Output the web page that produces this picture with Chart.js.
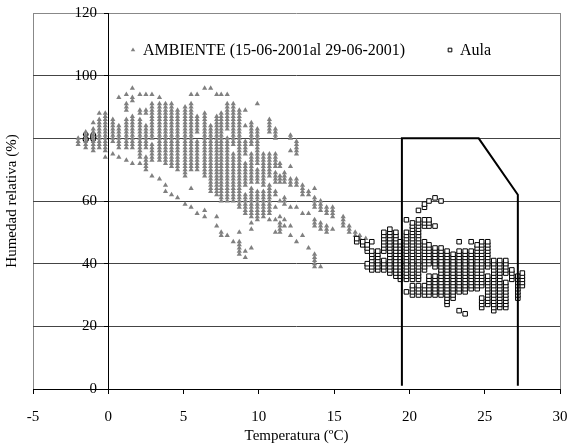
<!DOCTYPE html>
<html lang="es">
<head>
<meta charset="UTF-8">
<title>Humedad relativa frente a temperatura</title>
<script src="https://cdn.jsdelivr.net/npm/chart.js@4.4.1/dist/chart.umd.min.js"></script>
<style>
  html, body { margin: 0; padding: 0; background: #fff; }
</style>
</head>
<body>
<canvas id="chart" width="569" height="445"></canvas>
<script>
  // AMBIENTE: temperature columns (ºC) and the humidity readings (%) seen in each column
  const ambienteTemps = [-2.0, -1.5, -1.0, -0.6, -0.2, 0.3, 0.7, 1.2, 1.6, 2.1, 2.5, 2.9, 3.4, 3.8, 4.2, 4.6,
    5.1, 5.5, 5.9, 6.4, 6.8, 7.2, 7.5, 7.9, 8.3, 8.7, 9.1, 9.5, 9.9, 10.3, 10.7, 11.1, 11.4, 11.7, 12.1,
    12.5, 12.9, 13.3, 13.7, 14.1, 14.5, 14.9, 15.6, 16.0, 16.4, 16.7, 17.1];
  const ambienteHum = [
    [78, 79, 80],
    [77, 78, 79, 80, 81, 82],
    [76, 77, 78, 79, 80, 81, 82, 83, 85],
    [77, 78, 79, 80, 81, 82, 83, 84, 85, 86, 88],
    [74, 76, 77, 78, 79, 80, 81, 82, 83, 84, 85, 86, 87, 88],
    [75, 79, 80, 81, 82, 83, 84, 85, 86],
    [74, 77, 78, 79, 80, 81, 82, 83, 84, 93],
    [73, 77, 78, 79, 80, 81, 82, 83, 84, 85, 86, 89, 90, 91, 94],
    [72, 77, 78, 79, 80, 81, 82, 83, 84, 85, 86, 87, 92, 93, 96],
    [72, 74, 75, 76, 77, 78, 79, 80, 81, 82, 83, 84, 85, 86, 88, 89, 94],
    [70, 71, 72, 73, 74, 77, 78, 79, 80, 81, 82, 83, 84, 88, 89, 94],
    [68, 73, 74, 75, 76, 77, 78, 80, 81, 82, 83, 84, 85, 86, 87, 88, 89, 90, 91, 94],
    [67, 73, 74, 75, 76, 77, 78, 79, 80, 81, 82, 83, 84, 85, 86, 87, 88, 89, 90, 91, 93],
    [63, 65, 72, 73, 74, 75, 76, 77, 78, 79, 80, 81, 82, 83, 84, 85, 86, 87, 88, 89, 90, 91],
    [62, 71, 72, 73, 74, 75, 76, 77, 78, 79, 80, 81, 82, 83, 84, 85, 86, 87, 88, 89, 90, 91],
    [61, 70, 71, 72, 73, 74, 75, 76, 77, 78, 79, 80, 81, 82, 83, 84, 85, 86, 87, 88, 89],
    [59, 68, 69, 70, 71, 72, 73, 74, 75, 76, 77, 78, 79, 80, 81, 82, 83, 84, 85, 86, 87, 88, 89, 90],
    [58, 64, 70, 71, 72, 73, 74, 75, 76, 77, 78, 79, 80, 81, 82, 83, 84, 85, 86, 87, 88, 89, 90, 91, 94],
    [56, 70, 71, 72, 73, 74, 75, 76, 77, 78, 79, 82, 83, 84, 85, 86, 87, 94],
    [55, 57, 68, 69, 70, 71, 72, 73, 74, 75, 76, 77, 78, 79, 80, 81, 82, 83, 84, 85, 86, 87, 88, 96],
    [63, 64, 65, 66, 67, 68, 69, 70, 71, 72, 73, 74, 75, 76, 77, 78, 79, 80, 81, 82, 83, 84, 96],
    [52, 55, 62, 63, 64, 65, 66, 67, 68, 69, 70, 71, 72, 73, 74, 75, 76, 77, 78, 79, 80, 81, 82, 83, 84, 85, 86, 87, 94],
    [49, 50, 60, 61, 62, 63, 64, 65, 66, 67, 68, 69, 70, 71, 72, 73, 74, 75, 76, 77, 78, 79, 80, 81, 82, 83, 84, 85, 86, 87, 88, 94],
    [49, 60, 61, 62, 63, 64, 65, 66, 67, 68, 69, 70, 71, 72, 73, 74, 75, 76, 77, 78, 79, 80, 83, 84, 85, 86, 87, 88, 89, 90, 91, 94],
    [47, 60, 61, 62, 63, 64, 65, 66, 67, 68, 69, 70, 71, 72, 73, 74, 75, 78, 79, 80, 81, 82, 83, 84, 85, 86, 87, 88, 89, 90, 91],
    [43, 44, 45, 46, 47, 50, 58, 59, 60, 61, 62, 63, 64, 65, 66, 67, 68, 69, 70, 71, 72, 73, 74, 75, 76, 77, 78, 79, 80, 81, 82, 83, 84, 85, 86, 87, 88, 89],
    [42, 44, 56, 57, 58, 59, 60, 61, 62, 65, 66, 67, 68, 69, 70, 71, 72, 75, 76, 77, 78, 79, 84, 89],
    [45, 51, 53, 55, 56, 57, 58, 59, 60, 61, 62, 63, 64, 66, 67, 68, 69, 70, 71, 72, 73, 74, 75, 78, 79, 80, 81, 82, 83, 84, 85],
    [54, 55, 56, 57, 58, 59, 60, 61, 62, 63, 66, 67, 68, 69, 70, 72, 73, 74, 75, 76, 77, 78, 79, 80, 81, 82, 83, 91],
    [55, 56, 57, 58, 59, 60, 61, 62, 63, 65, 66, 67, 68, 69, 70, 71, 72, 73, 74, 75],
    [54, 56, 57, 58, 59, 60, 61, 62, 63, 64, 65, 68, 69, 70, 71, 72, 73, 74, 75, 82, 83, 84, 85, 86],
    [50, 54, 58, 62, 63, 66, 67, 68, 69, 71, 72, 73, 74, 75, 80, 81, 82, 83],
    [50, 51, 52, 53, 55, 60, 66, 67, 68, 71, 72],
    [52, 54, 59, 60, 61, 66, 67, 68, 69],
    [49, 52, 58, 65, 66, 67, 71, 76, 80, 81],
    [47, 58, 65, 66, 67, 75, 76, 77, 78, 79],
    [49, 56, 62, 63, 64, 65],
    [45, 56, 62, 63],
    [39, 40, 41, 42, 43, 52, 53, 54, 58, 59, 60, 61, 64],
    [39, 51, 52, 53, 57, 58, 59, 60],
    [50, 51, 52, 56, 57, 58],
    [51, 55, 56, 57, 58],
    [52, 53, 54, 55],
    [50, 51, 52],
    [49, 50],
    [48, 49],
    [48]
  ];

  // Aula: temperature columns (ºC) and humidity readings (%)
  const aulaTemps = [16.5, 16.9, 17.2, 17.5, 17.9, 18.3, 18.7, 19.1, 19.4, 19.8, 20.2, 20.6, 21.0, 21.3,
    21.7, 22.1, 22.5, 22.9, 23.3, 23.7, 24.1, 24.5, 24.8, 25.2, 25.6, 26.0, 26.4, 26.8, 27.2, 27.5];
  const aulaHum = [
    [47, 48],
    [46, 47],
    [39, 40, 44, 45, 46],
    [38, 39, 40, 41, 42, 43, 44, 47],
    [38, 39, 40, 41, 42, 43, 44],
    [38, 39, 40, 41, 44, 45, 46, 47, 48, 49, 50],
    [37, 38, 39, 40, 41, 42, 43, 44, 45, 46, 47, 48, 49, 50, 51],
    [36, 37, 38, 39, 40, 41, 42, 43, 44, 45, 46, 47, 48, 49, 50],
    [35, 36, 37, 38, 39, 40, 41, 42, 43, 44, 45, 46, 47],
    [31, 35, 36, 37, 38, 39, 40, 41, 42, 43, 44, 45, 46, 47, 48, 49, 50, 54],
    [30, 31, 32, 33, 35, 36, 37, 38, 39, 40, 41, 42, 43, 44, 45, 46, 47, 48, 49, 50, 51, 52, 53],
    [30, 31, 32, 33, 35, 36, 37, 38, 39, 40, 41, 42, 43, 44, 45, 46, 47, 48, 49, 50, 51, 52, 53, 54, 57],
    [30, 31, 32, 33, 38, 39, 40, 41, 42, 43, 44, 45, 46, 47, 52, 53, 54, 58, 59],
    [30, 31, 32, 33, 34, 35, 36, 40, 41, 42, 43, 44, 45, 46, 52, 53, 54, 60],
    [30, 31, 32, 33, 34, 35, 36, 39, 40, 41, 42, 43, 44, 45, 52, 61],
    [30, 31, 32, 33, 34, 35, 36, 37, 38, 39, 40, 41, 42, 43, 44, 45, 60],
    [27, 28, 29, 30, 31, 32, 33, 34, 35, 36, 37, 38, 39, 40, 41, 42, 43, 44],
    [29, 30, 31, 32, 33, 34, 35, 36, 37, 38, 39, 40, 41, 42, 43],
    [25, 31, 32, 33, 34, 35, 36, 37, 38, 39, 40, 41, 42, 43, 44, 47],
    [24, 31, 32, 33, 34, 35, 36, 37, 38, 39, 40, 41, 42, 43, 44],
    [32, 33, 34, 35, 36, 37, 38, 39, 40, 41, 42, 43, 44, 47],
    [32, 33, 34, 35, 36, 37, 38, 39, 40, 41, 42, 43, 44, 45, 46],
    [26, 27, 28, 29, 33, 34, 35, 36, 37, 38, 39, 40, 41, 42, 43, 44, 45, 46, 47],
    [27, 28, 29, 30, 31, 32, 33, 34, 35, 36, 39, 40, 41, 42, 43, 44, 45, 46, 47],
    [25, 26, 27, 28, 29, 30, 31, 32, 33, 34, 35, 36, 37, 38, 39, 40, 41],
    [26, 27, 28, 29, 30, 31, 32, 33, 34, 35, 36, 37, 38, 39, 40, 41],
    [26, 27, 28, 29, 30, 31, 32, 33, 34, 37, 38, 39, 40, 41],
    [35, 36, 37, 38],
    [29, 30, 31, 32, 33, 34, 35, 36],
    [33, 34, 35, 36, 37]
  ];

  // comfort zone outline
  const zoneX = [19.5, 19.5, 24.6, 27.2, 27.2];
  const zoneY = [1, 80, 80, 62, 1];

  const xMin = -5, xMax = 30, xStep = 5;
  const yMin = 0, yMax = 120, yStep = 20;

  const ambienteLabel = 'AMBIENTE (15-06-2001al 29-06-2001)';
  const aulaLabel = 'Aula';

  function columnsToPoints(temps, hums) {
    const pts = [];
    temps.forEach((t, i) => hums[i].forEach(h => pts.push({ x: t, y: h })));
    return pts;
  }

  const ambientePts = columnsToPoints(ambienteTemps, ambienteHum);
  const aulaPts = columnsToPoints(aulaTemps, aulaHum);
  const zonePts = zoneX.map((x, i) => ({ x: x, y: zoneY[i] }));

  const serif = '"Liberation Serif", "Times New Roman", serif';
  Chart.defaults.font.family = serif;
  Chart.defaults.font.size = 15;
  Chart.defaults.color = '#000';

  // legend drawn inside the plot, as in the original sheet
  const insideLegend = {
    id: 'insideLegend',
    afterDraw(chart) {
      const { ctx, chartArea } = chart;
      const entries = [
        { ds: chart.data.datasets[2], x: chartArea.left + 100, y: chartArea.top + 37 },
        { ds: chart.data.datasets[1], x: chartArea.left + 417, y: chartArea.top + 37 }
      ];
      ctx.save();
      ctx.font = '16px ' + serif;
      ctx.textBaseline = 'middle';
      for (const e of entries) {
        ctx.fillStyle = e.ds.backgroundColor;
        ctx.strokeStyle = e.ds.borderColor;
        ctx.lineWidth = e.ds.borderWidth;
        Chart.helpers.drawPoint(ctx, {
          pointStyle: e.ds.pointStyle, radius: 2.6, rotation: 0, borderWidth: e.ds.borderWidth
        }, e.x, e.y);
        ctx.fillStyle = '#000';
        ctx.fillText(e.ds.label, e.x + 10, e.y + 1);
      }
      ctx.restore();
    }
  };

  new Chart(document.getElementById('chart'), {
    type: 'scatter',
    data: {
      datasets: [
        {
          label: 'zona',
          data: zonePts,
          showLine: true,
          borderColor: '#000',
          borderWidth: 2,
          pointRadius: 0,
          tension: 0,
          fill: false
        },
        {
          label: aulaLabel,
          data: aulaPts,
          pointStyle: 'rect',
          pointRadius: 3.2,
          backgroundColor: '#fff',
          borderColor: '#000',
          borderWidth: 1
        },
        {
          label: ambienteLabel,
          data: ambientePts,
          pointStyle: 'triangle',
          pointRadius: 3,
          backgroundColor: '#808080',
          borderColor: '#808080',
          borderWidth: 0
        }
      ]
    },
    options: {
      responsive: false,
      animation: false,
      devicePixelRatio: 1,
      layout: { padding: { left: 3, right: 9, top: 13, bottom: 0 } },
      plugins: {
        legend: { display: false },
        tooltip: { enabled: false }
      },
      scales: {
        x: {
          type: 'linear',
          position: 'bottom',
          min: xMin,
          max: xMax,
          ticks: { stepSize: xStep, padding: 1, color: '#000', font: { size: 15, lineHeight: 3.0 } },
          grid: {
            color: c => (c.tick.value === xMin || c.tick.value === xMax) ? '#888' : 'rgba(0,0,0,0)',
            tickColor: '#000',
            tickLength: 5,
            lineWidth: 1
          },
          border: { color: '#000', width: 1 },
          title: { display: true, text: 'Temperatura (ºC)', color: '#000', padding: { top: -14, bottom: 0 } }
        },
        y: {
          type: 'linear',
          position: { x: 0 },
          min: yMin,
          max: yMax,
          ticks: { stepSize: yStep, padding: 0, color: '#000', callback: v => v + '   ' },
          grid: {
            color: c => c.tick.value === yMax ? '#888' : '#444',
            tickColor: '#000',
            tickLength: 4,
            lineWidth: 1
          },
          border: { color: '#000', width: 1 }
        },
        yTitle: {
          type: 'linear',
          position: 'left',
          min: yMin,
          max: yMax,
          grid: { display: false, drawTicks: false },
          ticks: { display: false },
          border: { display: false },
          title: { display: true, text: 'Humedad relativa (%)', color: '#000', padding: { top: 0, bottom: 12 } }
        }
      }
    },
    plugins: [insideLegend]
  });
</script>
</body>
</html>
